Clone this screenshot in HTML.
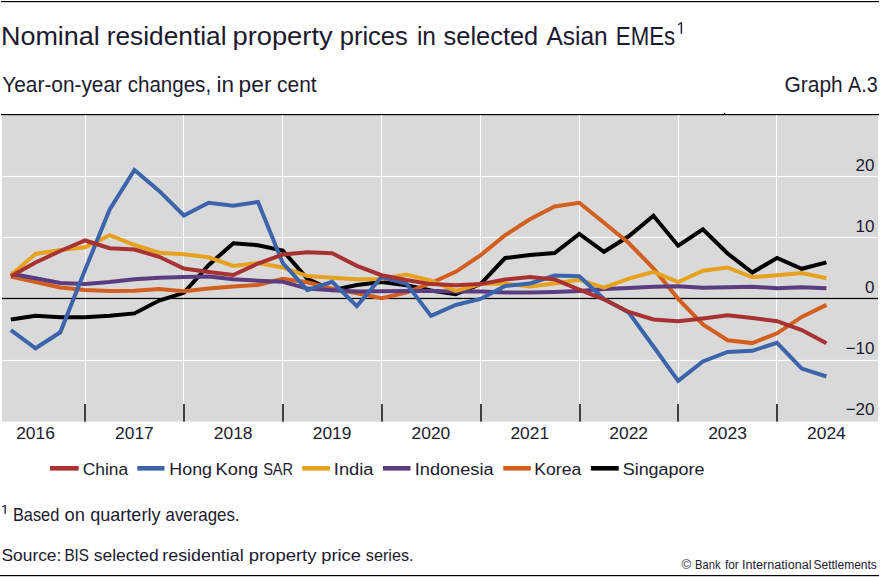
<!DOCTYPE html>
<html><head><meta charset="utf-8"><style>
html,body{margin:0;padding:0;background:#fff;}
body{width:880px;height:577px;position:relative;overflow:hidden;font-family:"Liberation Sans",sans-serif;}
</style></head><body>
<svg width="880" height="577" viewBox="0 0 880 577" style="position:absolute;left:0;top:0"><rect x="0" y="0" width="880" height="577" fill="#ffffff"/><rect x="1" y="1" width="878" height="1.2" fill="#000"/><rect x="2" y="115" width="876" height="306.6" fill="#d9d9d9"/><rect x="1" y="114" width="878" height="1.2" fill="#000"/><rect x="724" y="112.8" width="1.2" height="1.5" fill="#000"/><rect x="85" y="115" width="1" height="306.6" fill="#ffffff"/><rect x="183" y="115" width="1" height="306.6" fill="#ffffff"/><rect x="282" y="115" width="1" height="306.6" fill="#ffffff"/><rect x="381" y="115" width="1" height="306.6" fill="#ffffff"/><rect x="480" y="115" width="1" height="306.6" fill="#ffffff"/><rect x="579" y="115" width="1" height="306.6" fill="#ffffff"/><rect x="678" y="115" width="1" height="306.6" fill="#ffffff"/><rect x="776" y="115" width="1" height="306.6" fill="#ffffff"/><rect x="2" y="175.90" width="876" height="1.2" fill="#ffffff"/><rect x="2" y="236.90" width="876" height="1.2" fill="#ffffff"/><rect x="2" y="359.90" width="876" height="1.2" fill="#ffffff"/><rect x="84" y="404" width="2" height="17.6" fill="#404040"/><rect x="183" y="404" width="2" height="17.6" fill="#404040"/><rect x="282" y="404" width="2" height="17.6" fill="#404040"/><rect x="381" y="404" width="2" height="17.6" fill="#404040"/><rect x="480" y="404" width="2" height="17.6" fill="#404040"/><rect x="579" y="404" width="2" height="17.6" fill="#404040"/><rect x="677" y="404" width="2" height="17.6" fill="#404040"/><rect x="776" y="404" width="2" height="17.6" fill="#404040"/><rect x="2" y="297.85" width="876" height="1.25" fill="#000"/><polyline points="10.86,319.50 35.57,315.70 60.28,317.30 85.00,317.30 109.72,315.80 134.43,313.40 159.14,300.50 183.86,292.80 208.57,265.20 233.29,243.20 258.00,245.20 282.72,250.50 307.44,278.90 332.15,290.20 356.87,285.00 381.58,282.00 406.29,285.20 431.01,290.50 455.72,294.30 480.44,284.10 505.15,258.00 529.87,255.00 554.59,253.00 579.30,234.00 604.01,251.80 628.73,236.30 653.44,215.80 678.16,245.70 702.88,229.30 727.59,253.50 752.30,272.50 777.02,258.00 801.74,268.80 826.45,262.40" fill="none" stroke="#000000" stroke-width="4.0" stroke-linejoin="miter" stroke-miterlimit="3" stroke-linecap="butt"/><polyline points="10.86,276.50 35.57,282.00 60.28,287.50 85.00,290.00 109.72,291.00 134.43,290.70 159.14,289.10 183.86,291.20 208.57,288.60 233.29,286.40 258.00,285.00 282.72,278.90 307.44,282.30 332.15,288.60 356.87,293.20 381.58,298.20 406.29,292.70 431.01,283.00 455.72,271.80 480.44,255.30 505.15,235.20 529.87,219.30 554.59,206.40 579.30,202.80 604.01,222.80 628.73,243.00 653.44,268.40 678.16,298.80 702.88,324.50 727.59,340.20 752.30,343.10 777.02,333.30 801.74,316.90 826.45,304.90" fill="none" stroke="#d35f1e" stroke-width="4.0" stroke-linejoin="miter" stroke-miterlimit="3" stroke-linecap="butt"/><polyline points="10.86,273.80 35.57,278.20 60.28,283.00 85.00,284.00 109.72,282.00 134.43,279.30 159.14,277.70 183.86,277.00 208.57,276.60 233.29,279.30 258.00,280.70 282.72,281.80 307.44,288.60 332.15,290.20 356.87,291.40 381.58,291.20 406.29,290.90 431.01,290.90 455.72,291.40 480.44,291.60 505.15,292.50 529.87,292.50 554.59,292.00 579.30,291.00 604.01,289.00 628.73,288.00 653.44,286.80 678.16,286.20 702.88,287.70 727.59,287.20 752.30,286.70 777.02,288.30 801.74,287.30 826.45,288.30" fill="none" stroke="#5c3c80" stroke-width="4.0" stroke-linejoin="miter" stroke-miterlimit="3" stroke-linecap="butt"/><polyline points="10.86,275.00 35.57,254.00 60.28,250.00 85.00,247.30 109.72,235.20 134.43,245.00 159.14,252.70 183.86,254.20 208.57,257.30 233.29,265.90 258.00,263.00 282.72,267.50 307.44,276.10 332.15,277.70 356.87,279.30 381.58,279.00 406.29,274.50 431.01,280.70 455.72,290.90 480.44,284.10 505.15,283.60 529.87,286.40 554.59,283.60 579.30,279.70 604.01,287.70 628.73,278.60 653.44,271.80 678.16,282.00 702.88,270.70 727.59,267.50 752.30,277.30 777.02,275.20 801.74,273.10 826.45,278.20" fill="none" stroke="#e5a21f" stroke-width="4.0" stroke-linejoin="miter" stroke-miterlimit="3" stroke-linecap="butt"/><polyline points="10.86,330.20 35.57,348.30 60.28,332.30 85.00,270.00 109.72,209.50 134.43,170.00 159.14,190.90 183.86,215.50 208.57,202.70 233.29,205.70 258.00,202.00 282.72,263.00 307.44,290.20 332.15,281.80 356.87,306.10 381.58,277.00 406.29,283.60 431.01,315.90 455.72,305.00 480.44,298.90 505.15,285.90 529.87,283.60 554.59,275.50 579.30,276.20 604.01,299.00 628.73,312.50 653.44,346.50 678.16,380.90 702.88,361.40 727.59,351.90 752.30,350.80 777.02,342.80 801.74,368.60 826.45,376.50" fill="none" stroke="#3b64ab" stroke-width="4.0" stroke-linejoin="miter" stroke-miterlimit="3" stroke-linecap="butt"/><polyline points="10.86,276.30 35.57,262.50 60.28,251.00 85.00,240.50 109.72,248.20 134.43,249.50 159.14,256.80 183.86,268.50 208.57,272.00 233.29,275.00 258.00,263.50 282.72,254.50 307.44,252.30 332.15,253.20 356.87,265.90 381.58,275.20 406.29,280.00 431.01,284.10 455.72,285.20 480.44,284.10 505.15,279.50 529.87,277.00 554.59,279.50 579.30,289.60 604.01,299.30 628.73,312.00 653.44,319.40 678.16,321.30 702.88,318.40 727.59,315.20 752.30,318.00 777.02,321.20 801.74,330.00 826.45,343.30" fill="none" stroke="#a83232" stroke-width="4.0" stroke-linejoin="miter" stroke-miterlimit="3" stroke-linecap="butt"/><text x="874.5" y="170.7" text-anchor="end" font-family="Liberation Sans" font-size="17" fill="#1c1a30">20</text><text x="874.5" y="231.7" text-anchor="end" font-family="Liberation Sans" font-size="17" fill="#1c1a30">10</text><text x="874.5" y="292.6" text-anchor="end" font-family="Liberation Sans" font-size="17" fill="#1c1a30">0</text><text x="874.5" y="353.9" text-anchor="end" font-family="Liberation Sans" font-size="17" fill="#1c1a30">−10</text><text x="874.5" y="414.9" text-anchor="end" font-family="Liberation Sans" font-size="17" fill="#1c1a30">−20</text><text x="35.5" y="438.6" text-anchor="middle" font-family="Liberation Sans" font-size="17.4" fill="#1c1a30">2016</text><text x="134.4" y="438.6" text-anchor="middle" font-family="Liberation Sans" font-size="17.4" fill="#1c1a30">2017</text><text x="233.2" y="438.6" text-anchor="middle" font-family="Liberation Sans" font-size="17.4" fill="#1c1a30">2018</text><text x="332.1" y="438.6" text-anchor="middle" font-family="Liberation Sans" font-size="17.4" fill="#1c1a30">2019</text><text x="430.9" y="438.6" text-anchor="middle" font-family="Liberation Sans" font-size="17.4" fill="#1c1a30">2020</text><text x="529.8" y="438.6" text-anchor="middle" font-family="Liberation Sans" font-size="17.4" fill="#1c1a30">2021</text><text x="628.7" y="438.6" text-anchor="middle" font-family="Liberation Sans" font-size="17.4" fill="#1c1a30">2022</text><text x="727.5" y="438.6" text-anchor="middle" font-family="Liberation Sans" font-size="17.4" fill="#1c1a30">2023</text><text x="826.4" y="438.6" text-anchor="middle" font-family="Liberation Sans" font-size="17.4" fill="#1c1a30">2024</text><rect x="50" y="466" width="28.7" height="4.6" fill="#a83232"/><rect x="137.3" y="466" width="27.2" height="4.6" fill="#3b64ab"/><rect x="302.2" y="466" width="27.8" height="4.6" fill="#e5a21f"/><rect x="383" y="466" width="27.5" height="4.6" fill="#5c3c80"/><rect x="503.3" y="466" width="27.6" height="4.6" fill="#d35f1e"/><rect x="590.9" y="466" width="27.8" height="4.6" fill="#000000"/><rect x="0" y="575" width="879" height="1.2" fill="#000"/><text x="0.94" y="44.8" font-family="Liberation Sans" font-size="26" textLength="98.89" lengthAdjust="spacingAndGlyphs" fill="#1c1a30">Nominal</text><text x="106.66" y="44.8" font-family="Liberation Sans" font-size="26" textLength="119.93" lengthAdjust="spacingAndGlyphs" fill="#1c1a30">residential</text><text x="232.49" y="44.8" font-family="Liberation Sans" font-size="26" textLength="100.15" lengthAdjust="spacingAndGlyphs" fill="#1c1a30">property</text><text x="339.71" y="44.8" font-family="Liberation Sans" font-size="26" textLength="68.15" lengthAdjust="spacingAndGlyphs" fill="#1c1a30">prices</text><text x="416.88" y="44.8" font-family="Liberation Sans" font-size="26" textLength="19.1" lengthAdjust="spacingAndGlyphs" fill="#1c1a30">in</text><text x="443.54" y="44.8" font-family="Liberation Sans" font-size="26" textLength="94.71" lengthAdjust="spacingAndGlyphs" fill="#1c1a30">selected</text><text x="546.5" y="44.8" font-family="Liberation Sans" font-size="26" textLength="61.21" lengthAdjust="spacingAndGlyphs" fill="#1c1a30">Asian</text><text x="615.82" y="44.8" font-family="Liberation Sans" font-size="26" textLength="59.41" lengthAdjust="spacingAndGlyphs" fill="#1c1a30">EMEs</text><text x="2.27" y="91.7" font-family="Liberation Sans" font-size="21.2" textLength="119.72" lengthAdjust="spacingAndGlyphs" fill="#1c1a30">Year-on-year</text><text x="127.68" y="91.7" font-family="Liberation Sans" font-size="21.2" textLength="83.44" lengthAdjust="spacingAndGlyphs" fill="#1c1a30">changes,</text><text x="216.42" y="91.7" font-family="Liberation Sans" font-size="21.2" textLength="17.51" lengthAdjust="spacingAndGlyphs" fill="#1c1a30">in</text><text x="238.61" y="91.7" font-family="Liberation Sans" font-size="21.2" textLength="32.84" lengthAdjust="spacingAndGlyphs" fill="#1c1a30">per</text><text x="277.06" y="91.7" font-family="Liberation Sans" font-size="21.2" textLength="39.65" lengthAdjust="spacingAndGlyphs" fill="#1c1a30">cent</text><text x="784.55" y="91.8" font-family="Liberation Sans" font-size="21.2" textLength="58.15" lengthAdjust="spacingAndGlyphs" fill="#1c1a30">Graph</text><text x="848.1" y="91.8" font-family="Liberation Sans" font-size="21.2" textLength="29.61" lengthAdjust="spacingAndGlyphs" fill="#1c1a30">A.3</text><text x="12.89" y="520.8" font-family="Liberation Sans" font-size="17.8" textLength="46.38" lengthAdjust="spacingAndGlyphs" fill="#1c1a30">Based</text><text x="64.57" y="520.8" font-family="Liberation Sans" font-size="17.8" textLength="20.37" lengthAdjust="spacingAndGlyphs" fill="#1c1a30">on</text><text x="90.18" y="520.8" font-family="Liberation Sans" font-size="17.8" textLength="70.33" lengthAdjust="spacingAndGlyphs" fill="#1c1a30">quarterly</text><text x="165.53" y="520.8" font-family="Liberation Sans" font-size="17.8" textLength="74.02" lengthAdjust="spacingAndGlyphs" fill="#1c1a30">averages.</text><text x="1.53" y="560.8" font-family="Liberation Sans" font-size="17.3" textLength="59.84" lengthAdjust="spacingAndGlyphs" fill="#1c1a30">Source:</text><text x="64.38" y="560.8" font-family="Liberation Sans" font-size="17.3" textLength="24.56" lengthAdjust="spacingAndGlyphs" fill="#1c1a30">BIS</text><text x="93.78" y="560.8" font-family="Liberation Sans" font-size="17.3" textLength="64.85" lengthAdjust="spacingAndGlyphs" fill="#1c1a30">selected</text><text x="162.25" y="560.8" font-family="Liberation Sans" font-size="17.3" textLength="81.47" lengthAdjust="spacingAndGlyphs" fill="#1c1a30">residential</text><text x="248.71" y="560.8" font-family="Liberation Sans" font-size="17.3" textLength="67.75" lengthAdjust="spacingAndGlyphs" fill="#1c1a30">property</text><text x="321.22" y="560.8" font-family="Liberation Sans" font-size="17.3" textLength="39.65" lengthAdjust="spacingAndGlyphs" fill="#1c1a30">price</text><text x="365.81" y="560.8" font-family="Liberation Sans" font-size="17.3" textLength="47.73" lengthAdjust="spacingAndGlyphs" fill="#1c1a30">series.</text><text x="681.54" y="568.7" font-family="Liberation Sans" font-size="12.3" textLength="9.58" lengthAdjust="spacingAndGlyphs" fill="#1c1a30">©</text><text x="695.11" y="568.7" font-family="Liberation Sans" font-size="12.3" textLength="25.38" lengthAdjust="spacingAndGlyphs" fill="#1c1a30">Bank</text><text x="724.88" y="568.7" font-family="Liberation Sans" font-size="12.3" textLength="13.92" lengthAdjust="spacingAndGlyphs" fill="#1c1a30">for</text><text x="742.06" y="568.7" font-family="Liberation Sans" font-size="12.3" textLength="69.44" lengthAdjust="spacingAndGlyphs" fill="#1c1a30">International</text><text x="813.5" y="568.7" font-family="Liberation Sans" font-size="12.3" textLength="63.38" lengthAdjust="spacingAndGlyphs" fill="#1c1a30">Settlements</text><text x="82.73" y="474.6" font-family="Liberation Sans" font-size="17.3" textLength="45.52" lengthAdjust="spacingAndGlyphs" fill="#1c1a30">China</text><text x="169.37" y="474.6" font-family="Liberation Sans" font-size="17.3" textLength="42.71" lengthAdjust="spacingAndGlyphs" fill="#1c1a30">Hong</text><text x="215.64" y="474.6" font-family="Liberation Sans" font-size="17.3" textLength="42.55" lengthAdjust="spacingAndGlyphs" fill="#1c1a30">Kong</text><text x="263.17" y="474.6" font-family="Liberation Sans" font-size="17.3" textLength="29.95" lengthAdjust="spacingAndGlyphs" fill="#1c1a30">SAR</text><text x="333.85" y="474.6" font-family="Liberation Sans" font-size="17.3" textLength="39.72" lengthAdjust="spacingAndGlyphs" fill="#1c1a30">India</text><text x="414.77" y="474.6" font-family="Liberation Sans" font-size="17.3" textLength="78.78" lengthAdjust="spacingAndGlyphs" fill="#1c1a30">Indonesia</text><text x="534.39" y="474.6" font-family="Liberation Sans" font-size="17.3" textLength="46.88" lengthAdjust="spacingAndGlyphs" fill="#1c1a30">Korea</text><text x="622.7" y="474.6" font-family="Liberation Sans" font-size="17.3" textLength="81.78" lengthAdjust="spacingAndGlyphs" fill="#1c1a30">Singapore</text><rect x="680.7" y="22.3" width="1.4" height="11.5" fill="#1c1a30"/><line x1="678.2" y1="24.7" x2="681.3" y2="22.7" stroke="#1c1a30" stroke-width="1.3"/><rect x="4.5" y="505.2" width="1.3" height="8.6" fill="#1c1a30"/><line x1="2.2" y1="506.7" x2="5" y2="505.5" stroke="#1c1a30" stroke-width="1.1"/></svg>
</body></html>
